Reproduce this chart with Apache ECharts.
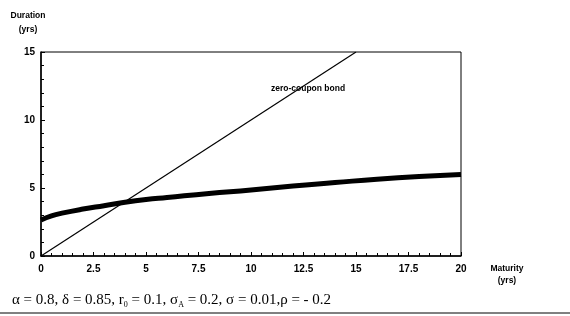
<!DOCTYPE html>
<html>
<head>
<meta charset="utf-8">
<script src="https://cdn.jsdelivr.net/npm/echarts@6/dist/echarts.min.js"></script>
<style>
  html, body { margin: 0; padding: 0; background: #fff; }
  #chart-container { width: 570px; height: 316px; }
</style>
</head>
<body>
<div id="chart-container"></div>
<script>
var maturity = [0, 0.5, 1, 2, 3, 4, 5, 6, 8, 10, 12, 14, 16, 18, 20];
var duration = [2.65, 2.95, 3.15, 3.45, 3.7, 3.95, 4.15, 4.3, 4.6, 4.85, 5.15, 5.4, 5.65, 5.85, 6.0];
var zeroMaturity = [0, 15];
var zeroDuration = [0, 15];
var xTicks = ['0', '2.5', '5', '7.5', '10', '12.5', '15', '17.5', '20'];

var dom = document.getElementById('chart-container');
var myChart = echarts.init(dom, null, { renderer: 'canvas' });

var labelFont = {
  color: '#000',
  fontFamily: 'Liberation Sans',
  fontWeight: 'bold',
  fontSize: 10
};

var option = {
  animation: false,
  backgroundColor: '#fff',
  grid: {
    left: 41,
    right: 109,
    top: 52,
    bottom: 60,
    show: true,
    borderColor: '#000',
    borderWidth: 1
  },
  xAxis: {
    type: 'value',
    min: 0,
    max: 20,
    interval: 2.5,
    name: 'Maturity\n(yrs)',
    nameLocation: 'end',
    nameGap: 26,
    nameTextStyle: Object.assign({}, labelFont, { fontSize: 8.5, lineHeight: 12, align: 'center', verticalAlign: 'top', padding: [7, 0, 0, 18] }),
    axisLine: { lineStyle: { color: '#000', width: 1.5 } },
    axisTick: { inside: true, length: 4, lineStyle: { color: '#000' } },
    minorTick: { show: true, splitNumber: 5, length: 3, lineStyle: { color: '#000' } },
    splitLine: { show: false },
    axisLabel: Object.assign({}, labelFont, {
      margin: 8,
      formatter: function (v) { return xTicks[Math.round(v / 2.5)]; }
    })
  },
  yAxis: {
    type: 'value',
    min: 0,
    max: 15,
    interval: 5,
    name: 'Duration\n(yrs)',
    nameLocation: 'end',
    nameGap: 15,
    nameTextStyle: Object.assign({}, labelFont, { fontSize: 8.5, lineHeight: 14, align: 'center', padding: [0, 26, 0, 0] }),
    axisLine: { show: true, lineStyle: { color: '#000', width: 1.5 } },
    axisTick: { inside: true, length: 4, lineStyle: { color: '#000' } },
    minorTick: { show: true, splitNumber: 5, length: 3, lineStyle: { color: '#000' } },
    splitLine: { show: false },
    axisLabel: Object.assign({}, labelFont, { margin: 6 })
  },
  series: [
    {
      name: 'zero-coupon bond',
      type: 'line',
      showSymbol: false,
      lineStyle: { color: '#000', width: 1.2 },
      data: zeroMaturity.map(function (m, i) { return [m, zeroDuration[i]]; })
    },
    {
      name: 'duration',
      type: 'line',
      smooth: true,
      showSymbol: false,
      lineStyle: { color: '#000', width: 5 },
      data: maturity.map(function (m, i) { return [m, duration[i]]; })
    }
  ],
  graphic: [
    {
      type: 'text',
      left: 271,
      top: 84,
      style: { text: 'zero-coupon bond', fill: '#000', font: 'bold 8.5px "Liberation Sans"' }
    },
    {
      type: 'text',
      left: 12,
      top: 293,
      style: {
        rich: {
          n: { fontFamily: 'Liberation Serif', fontSize: 15, fill: '#000' },
          s: { fontFamily: 'Liberation Serif', fontSize: 8, fill: '#000', verticalAlign: 'bottom', padding: [8, 0, 0, 0] }
        },
        text: '{n|α = 0.8, δ = 0.85, r}{s|0}{n| = 0.1, σ}{s|A}{n| = 0.2, σ = 0.01,ρ = - 0.2}'
      }
    },
    {
      type: 'line',
      shape: { x1: 0, y1: 313, x2: 570, y2: 313 },
      style: { stroke: '#000', lineWidth: 1 }
    }
  ]
};

myChart.setOption(option);
window.addEventListener('resize', myChart.resize);
</script>
</body>
</html>
